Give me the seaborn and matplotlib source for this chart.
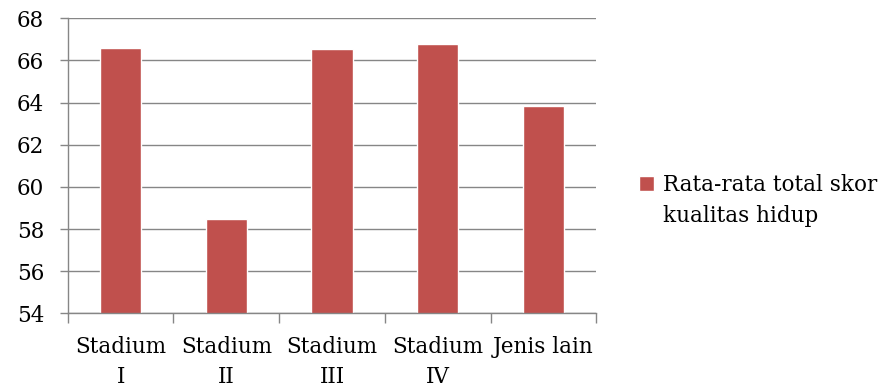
import matplotlib
matplotlib.use("Agg")
import matplotlib.pyplot as plt
import seaborn as sns
import pandas as pd
from matplotlib.ticker import FixedLocator

categories = ["Stadium\nI", "Stadium\nII", "Stadium\nIII", "Stadium\nIV", "Jenis lain"]
values = [66.58, 58.49, 66.56, 66.80, 63.85]
series_lines = ["Rata-rata total skor", "kualitas hidup"]
y_ticks = [54, 56, 58, 60, 62, 64, 66, 68]

sns.set_theme(style="white")
plt.rcParams["font.family"] = ["DejaVu Serif"]
plt.rcParams["text.color"] = "black"

df = pd.DataFrame({"kategori": categories, "nilai": values, "seri": series_lines[0]})

fig = plt.figure(figsize=(8.85, 3.9), dpi=100)
ax = fig.add_axes([0.0765, 0.1967, 0.5975, 0.7563])

sns.barplot(data=df, x="kategori", y="nilai", hue="seri", palette=["#C0504D"],
            width=0.39, ax=ax, saturation=1, legend=True)

gray = "#868686"
fs = 15.5
ax.set_ylim(54, 68)
ax.set_xlim(-0.5, len(categories) - 0.5)
ax.set_yticks(y_ticks)
ax.yaxis.grid(True, color=gray, linewidth=1.0)
ax.set_axisbelow(True)
ax.set_xlabel("")
ax.set_ylabel("")
for s in ["top", "right"]:
    ax.spines[s].set_visible(False)
for s in ["left", "bottom"]:
    ax.spines[s].set_color(gray)
    ax.spines[s].set_linewidth(1.0)

ax.tick_params(axis="y", which="major", length=6, color=gray, width=1.0,
               labelsize=fs, pad=11, direction="out", left=True)
ax.tick_params(axis="x", which="major", length=0, labelsize=fs, pad=16)
ax.xaxis.set_minor_locator(FixedLocator([i - 0.5 for i in range(len(categories) + 1)]))
ax.tick_params(axis="x", which="minor", length=7, color=gray, width=1.0,
               direction="out", bottom=True)
for t in ax.get_xticklabels() + ax.get_yticklabels():
    t.set_color("black")
for t in ax.get_xticklabels():
    t.set_linespacing(1.5)

leg = ax.get_legend()
leg.remove()
handles, labels = ax.get_legend_handles_labels()
lg = fig.legend(handles, labels, loc="center left", bbox_to_anchor=(0.712, 0.525),
                frameon=False, fontsize=fs, handlelength=0.7, handleheight=0.7,
                handletextpad=0.45, borderaxespad=0, labelcolor="black")

fig.canvas.draw()
bb = lg.get_texts()[0].get_window_extent()
inv = fig.transFigure.inverted()
x0, y0 = inv.transform((bb.x0, bb.y0))
fig.text(x0, y0 - 31 / 390, series_lines[1], fontsize=fs, color="black",
         ha="left", va="bottom")

fig.savefig("out.png", dpi=100)
